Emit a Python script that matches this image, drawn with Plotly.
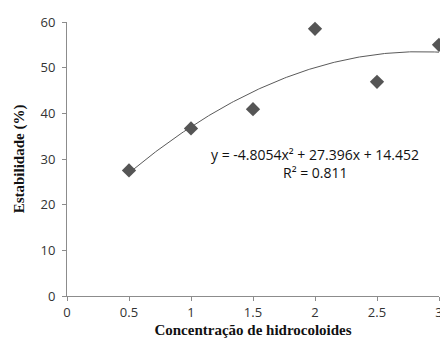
import numpy as np
import plotly.graph_objects as go

x_vals = [0.5, 1.0, 1.5, 2.0, 2.5, 3.0]
y_vals = [27.5, 36.7, 40.9, 58.5, 46.9, 55.0]
coef = [-4.8054, 27.396, 14.452]  # trendline coefficients shown on chart
x_ticks = [0, 0.5, 1, 1.5, 2, 2.5, 3]
y_ticks = [0, 10, 20, 30, 40, 50, 60]

xt = np.linspace(min(x_vals), max(x_vals), 200)
yt = np.polyval(coef, xt)

fig = go.Figure()
fig.add_trace(go.Scatter(x=xt, y=yt, mode="lines",
                         line=dict(color="#5a5a5a", width=1), hoverinfo="skip"))
fig.add_trace(go.Scatter(x=x_vals, y=y_vals, mode="markers", cliponaxis=False,
                         marker=dict(symbol="diamond", size=11, color="#555555")))

axis_common = dict(showgrid=False, zeroline=False, showline=True,
                   linecolor="#8c8c8c", linewidth=1, ticks="outside",
                   tickcolor="#8c8c8c", ticklen=4, ticklabeloverflow="allow",
                   automargin=False,
                   tickfont=dict(family="Open Sans, DejaVu Sans, sans-serif", size=13, color="#333"))

fig.update_layout(
    width=440, height=343,
    margin=dict(l=67, r=1, t=22, b=47),
    paper_bgcolor="white", plot_bgcolor="white",
    showlegend=False,
    xaxis=dict(range=[0, 3], tickvals=x_ticks, ticktext=[str(v) for v in x_ticks],
               title=dict(text="<b>Concentração de hidrocoloides</b>",
                          font=dict(family="Liberation Serif, serif", size=15, color="#111"),
                          standoff=4),
               **axis_common),
    yaxis=dict(range=[0, 60], tickvals=y_ticks, ticklabelstandoff=4,
               title=dict(text="<b>Estabilidade (%)</b>",
                          font=dict(family="Liberation Serif, serif", size=15, color="#111"),
                          standoff=12),
               **axis_common),
)

pw, ph = 440 - 67 - 1, 343 - 22 - 47
def px(x, y):
    return (x - 67) / pw, (343 - 47 - y) / ph

ax, ay = px(315, 154)
fig.add_annotation(x=ax, y=ay, xref="paper", yref="paper", showarrow=False,
                   xanchor="center", yanchor="middle",
                   text="y = -4.8054x² + 27.396x + 14.452",
                   font=dict(family="Open Sans, DejaVu Sans, sans-serif", size=14, color="#111"))
ax, ay = px(315, 172)
fig.add_annotation(x=ax, y=ay, xref="paper", yref="paper", showarrow=False,
                   xanchor="center", yanchor="middle",
                   text="R² = 0.811",
                   font=dict(family="Open Sans, DejaVu Sans, sans-serif", size=14, color="#111"))

fig.write_html("out.html")
